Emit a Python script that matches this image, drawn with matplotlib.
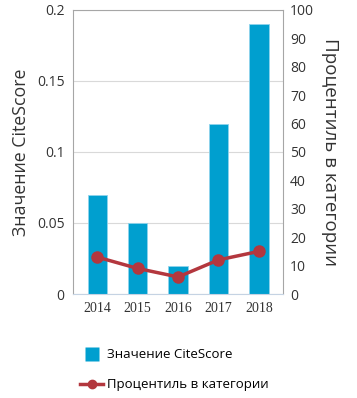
import matplotlib
matplotlib.use('Agg')
import matplotlib.pyplot as plt
from matplotlib.lines import Line2D

years = ['2014', '2015', '2016', '2017', '2018']
citescore = [0.07, 0.05, 0.02, 0.12, 0.19]
percentile = [13, 9, 6, 12, 15]

plt.rcParams['font.family'] = ['Open Sans', 'DejaVu Sans']

bar_color = '#009fcf'
line_color = '#b3373e'

fig = plt.figure(figsize=(3.57, 3.98), dpi=100)
ax = fig.add_axes([0.2045, 0.2613, 0.5885, 0.7137])
x = range(len(years))
ax.bar(x, citescore, width=0.48, color=bar_color, edgecolor='#8fd3ec', linewidth=0.6, zorder=2)
ax.set_ylim(0, 0.2)
ax.set_xlim(-0.6, 4.6)
ax.set_yticks([0, 0.05, 0.1, 0.15, 0.2])
ax.set_yticklabels(['0', '0.05', '0.1', '0.15', '0.2'], fontsize=10, color='#333333')
ax.set_xticks(list(x))
ax.set_xticklabels(years, fontsize=10, family='Liberation Serif', color='#333333')
ax.tick_params(length=0, pad=6)
ax.grid(axis='y', color='#d9d9d9', linewidth=0.8, zorder=0)
for s in ['left', 'top', 'right']:
    ax.spines[s].set_color('#a6a6a6')
ax.spines['bottom'].set_color('#c5d3e3')
ax.set_ylabel('Значение CiteScore', fontsize=12.8, color='#333333', labelpad=5)

ax2 = ax.twinx()
ax2.plot(x, percentile, color=line_color, linewidth=2.5, marker='o', markersize=8, zorder=3)
ax2.set_ylim(0, 100)
ax2.set_yticks(range(0, 101, 10))
ax2.tick_params(length=0, labelsize=10, labelcolor='#333333', pad=5)
for s in ax2.spines.values():
    s.set_visible(False)
ax2.set_ylabel('Процентиль в категории', fontsize=13.5, color='#333333', rotation=270, labelpad=18)

handles = [Line2D([0], [0], color='none', marker='s', markersize=10,
                  markerfacecolor=bar_color, markeredgecolor='none'),
           Line2D([0], [0], color=line_color, linewidth=2.5, marker='o', markersize=6)]
labels = ['Значение CiteScore', 'Процентиль в категории']
fig.legend(handles, labels, loc='upper left', bbox_to_anchor=(0.19, 0.155), frameon=False,
           fontsize=9.5, labelspacing=1.3, handlelength=1.8, handletextpad=0.3)

fig.savefig('out.png', dpi=100)
